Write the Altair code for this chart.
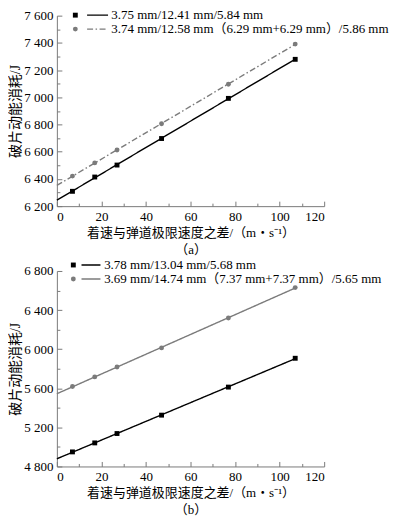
import altair as alt
import pandas as pd

# ---------------- data ----------------
x_vals = [7, 17, 27, 47, 77, 107]

a_names = ["3.75 mm/12.41 mm/5.84 mm",
           "3.74 mm/12.58 mm（6.29 mm+6.29 mm）/5.86 mm"]
a_solid = [6309, 6414, 6502, 6697, 6992, 7279]
a_split = [6421, 6518, 6613, 6806, 7096, 7391]

b_names = ["3.78 mm/13.04 mm/5.68 mm",
           "3.69 mm/14.74 mm（7.37 mm+7.37 mm）/5.65 mm"]
b_solid = [4949, 5041, 5137, 5325, 5612, 5907]
b_split = [5618, 5716, 5818, 6013, 6319, 6630]

marker_keys = ["marker 1", "marker 2"]

x_ticks_major = [0, 20, 40, 60, 80, 100, 120]
x_ticks_minor = [0, 10, 20, 30, 40, 50, 60, 70, 80, 90, 100, 110, 120]
a_y_ticks = [6200, 6400, 6600, 6800, 7000, 7200, 7400, 7600]
b_y_ticks = [4800, 5200, 5600, 6000, 6400, 6800]

y_title = "破片动能消耗/J"
x_title = "着速与弹道极限速度之差/（m・s⁻¹）"
tags = ["（a）", "（b）"]

# ---------------- style ----------------
FONT = "Liberation Serif, Noto Sans CJK SC"
BLACK = "#000000"
GRAY = "#7b7b7b"
AXIS_C = "#7a7a7a"
W = 268
LINE_SYMBOL = "M-1,0H4"   # short legend line starting at the symbol's left edge


def panel(names, s1, s2, y_ticks, y_minor_step, tag, height, dash2,
          leg_mark_x, leg_line_x, leg_y, line_len):
    n = len(x_vals)
    df = pd.DataFrame({
        "x": x_vals + x_vals,
        "y": s1 + s2,
        "series": [names[0]] * n + [names[1]] * n,
        "marker": [marker_keys[0]] * n + [marker_keys[1]] * n,
    })
    ydom = [y_ticks[0], y_ticks[-1]]
    xscale = alt.Scale(domain=[0, 120], nice=False)
    yscale = alt.Scale(domain=ydom, nice=False, zero=False)
    y_major_step = y_ticks[1] - y_ticks[0]
    y_minor = list(range(y_ticks[0], y_ticks[-1] + 1, y_minor_step))

    r = line_len / 5.0
    sym_w = 2 * r
    line_legend = alt.Legend(
        title=None, orient="none", legendX=leg_line_x, legendY=leg_y,
        symbolType=LINE_SYMBOL, symbolSize=sym_w * sym_w,
        symbolStrokeWidth=1.4, labelFont=FONT, labelFontSize=13,
        labelColor="black", labelOffset=line_len - sym_w + 1,
        padding=0, rowPadding=0, labelLimit=400)
    mark_legend = alt.Legend(
        title=None, orient="none", legendX=leg_mark_x, legendY=leg_y,
        symbolSize=24, labelExpr="' '", labelFontSize=13, padding=0,
        rowPadding=0, symbolStrokeWidth=0)

    lines = alt.Chart(df).transform_regression(
        "x", "y", groupby=["series"], extent=[0, 107]
    ).mark_line(strokeWidth=1.4).encode(
        x=alt.X("x:Q", scale=xscale, axis=alt.Axis(
            values=x_ticks_major, ticks=False, tickSize=0, labelPadding=4,
            grid=False, domainColor=AXIS_C, title=[x_title, tag],
            titlePadding=3, titleLineHeight=17, titleFontSize=13)),
        y=alt.Y("y:Q", scale=yscale, axis=alt.Axis(
            values=y_ticks, ticks=False, tickSize=0, labelPadding=4,
            grid=False, domainColor=AXIS_C, title=y_title, titlePadding=1,
            titleFontSize=14,
            labelExpr="replace(format(datum.value, ','), ',', ' ')")),
        stroke=alt.Stroke("series:N", scale=alt.Scale(domain=names, range=[BLACK, GRAY]),
                          legend=line_legend),
        strokeDash=alt.StrokeDash("series:N", scale=alt.Scale(domain=names, range=[[1, 0], dash2]),
                                  legend=line_legend),
    )

    pts = alt.Chart(df).mark_point(filled=True, size=24, opacity=1).encode(
        x=alt.X("x:Q", scale=xscale, axis=alt.Axis(
            orient="top", offset=-height, values=x_ticks_minor, labels=False,
            domain=False, grid=False, title=None, tickColor=AXIS_C,
            tickSize={"condition": {"test": "datum.value % 20 === 0", "value": 5}, "value": 3})),
        y=alt.Y("y:Q", scale=yscale, axis=alt.Axis(
            orient="right", offset=-W, values=y_minor, labels=False,
            domain=False, grid=False, title=None, tickColor=AXIS_C,
            tickSize={"condition": {"test": f"datum.value % {y_major_step} === 0", "value": 5}, "value": 3})),
        fill=alt.Fill("marker:N", scale=alt.Scale(domain=marker_keys, range=[BLACK, GRAY]),
                      legend=mark_legend),
        shape=alt.Shape("marker:N", scale=alt.Scale(domain=marker_keys, range=["square", "circle"]),
                        legend=mark_legend),
    )

    return alt.layer(lines, pts).resolve_axis(
        x="independent", y="independent"
    ).properties(width=W, height=height)


top = panel(a_names, a_solid, a_split, a_y_ticks, 100, tags[0], 191,
            [6, 2.5, 1.5, 2.5], 12, 28, -7, 21)
bottom = panel(b_names, b_solid, b_split, b_y_ticks, 200, tags[1], 196,
               [1, 0], 10, 22, -12.5, 19)

chart = alt.vconcat(top, bottom, spacing=2).resolve_scale(
    fill="independent", shape="independent",
    stroke="independent", strokeDash="independent"
).resolve_legend(
    fill="independent", shape="independent",
    stroke="independent", strokeDash="independent"
).properties(
    padding=0, background="white"
).configure_view(stroke=None).configure_axis(
    labelFont=FONT, labelFontSize=13, labelColor="black",
    titleFont=FONT, titleFontWeight="normal", titleColor="black",
    domainWidth=1
)

chart.save("out.html", embed_options={"renderer": "svg", "actions": False})
